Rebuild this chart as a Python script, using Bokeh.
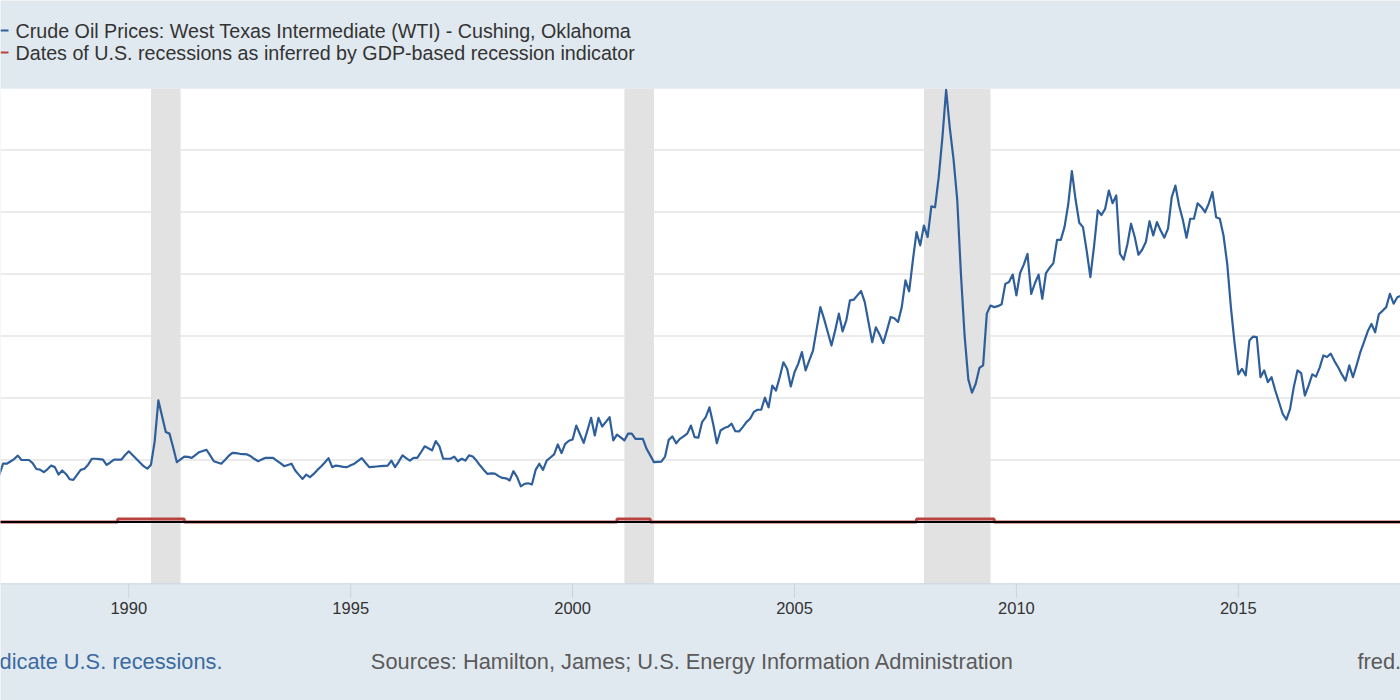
from bokeh.plotting import figure
from bokeh.models import Range1d
from bokeh.core.properties import value
from bokeh.embed import file_html
from bokeh.resources import INLINE

# ---------------- data (monthly WTI, dollars per barrel) ----------------
wti_1987_1990 = [
    17.8, 15.3, 18.8, 18.8, 19.5, 20.3, 21.4, 20.0, 20.0, 20.0, 19.0, 17.1,
    16.9, 16.1, 17.0, 18.2, 17.7, 15.3, 16.6, 15.5, 13.8, 13.6, 15.2, 16.8,
    17.2, 18.5, 20.4, 20.4, 20.3, 20.1, 18.4, 19.2, 20.1, 20.1, 20.1, 21.6,
    22.8, 21.6, 20.4, 19.2, 18.0, 17.2, 18.5, 26.0, 39.2, 34.1, 29.0, 28.5,
]
wti_1991_1994 = [
    24.0, 19.3, 20.2, 21.1, 21.0, 20.7, 21.6, 22.5, 22.9, 23.3, 21.5, 19.6,
    19.2, 18.8, 20.0, 21.3, 22.3, 22.2, 22.0, 21.9, 21.8, 21.2, 20.3, 19.6,
    20.2, 20.7, 20.7, 20.7, 19.8, 19.0, 18.0, 18.4, 18.8, 16.6, 15.2, 13.9,
    15.3, 14.5, 15.5, 16.8, 17.9, 19.2, 20.6, 17.7, 18.2, 18.0, 17.8, 17.7,
]
wti_1995_1998 = [
    18.3, 18.8, 19.7, 20.6, 19.1, 17.7, 17.8, 17.9, 18.0, 18.1, 18.2, 19.8,
    17.7, 19.5, 21.5, 20.6, 19.8, 20.7, 20.7, 22.5, 24.4, 23.8, 23.1, 26.1,
    24.4, 20.4, 20.4, 20.4, 21.1, 19.6, 20.4, 19.8, 21.5, 21.1, 19.8, 18.2,
    16.8, 15.5, 15.7, 15.6, 14.8, 14.2, 14.1, 13.4, 16.4, 14.5, 11.5, 12.3,
]
wti_1999_2002 = [
    12.5, 12.1, 16.8, 18.8, 16.8, 19.8, 20.8, 21.8, 25.0, 22.2, 25.2, 26.2,
    26.6, 31.1, 28.3, 25.5, 29.5, 33.6, 27.9, 33.6, 30.8, 32.3, 33.8, 26.3,
    28.2, 27.3, 26.3, 28.5, 28.5, 26.8, 26.8, 26.8, 23.6, 21.5, 19.3, 19.4,
    19.5, 21.1, 26.5, 27.6, 25.4, 26.8, 27.6, 28.5, 31.1, 27.4, 27.2, 32.2,
]
wti_2003_2006 = [
    33.8, 37.0, 31.7, 25.4, 29.5, 30.3, 30.7, 31.7, 29.3, 29.2, 30.6, 32.2,
    33.3, 35.5, 36.2, 36.2, 40.1, 37.0, 44.0, 42.4, 46.7, 51.5, 49.4, 43.7,
    48.3, 51.0, 54.8, 48.9, 52.1, 55.3, 62.3, 69.3, 65.5, 61.2, 56.9, 61.8,
    67.2, 61.5, 65.0, 71.5, 71.7, 73.1, 74.5, 70.9, 64.5, 58.0, 62.8, 60.5,
]
wti_2007_2010 = [
    57.7, 61.8, 66.1, 65.7, 64.5, 69.3, 77.9, 74.4, 84.4, 93.5, 89.2, 95.6,
    91.9, 101.8, 101.5, 111.2, 124.1, 139.4, 127.0, 117.0, 104.0, 80.0, 60.0, 46.0,
    41.7, 44.6, 49.7, 50.5, 67.2, 69.8, 69.3, 69.6, 70.2, 76.8, 77.4, 79.8,
    73.1, 80.3, 83.0, 86.5, 73.6, 77.0, 79.8, 72.0, 80.3, 82.0, 83.5, 91.0,
]
wti_2011_2014 = [
    91.0, 95.1, 102.3, 113.2, 104.0, 96.5, 95.1, 87.5, 79.0, 89.0, 100.5, 99.0,
    101.0, 106.9, 102.8, 105.3, 86.5, 84.6, 89.5, 96.2, 91.9, 86.2, 87.8, 90.3,
    97.0, 92.4, 96.7, 94.0, 91.7, 94.6, 104.8, 108.5, 102.0, 97.5, 91.7, 97.8,
    97.8, 102.8, 101.6, 99.9, 102.7, 106.4, 98.3, 97.8, 92.4, 83.3, 69.3, 57.6,
]
wti_2015_2018 = [
    47.6, 49.4, 47.3, 58.5, 59.8, 59.6, 46.7, 48.9, 45.1, 46.7, 42.4, 38.7,
    34.9, 33.0, 36.5, 43.5, 48.9, 48.0, 40.8, 44.0, 47.6, 46.9, 49.8, 53.7,
    53.2, 54.3, 51.9, 49.9, 47.6, 45.6, 50.5, 46.7, 50.6, 54.8, 58.1, 61.5,
    63.9, 61.2, 67.0, 68.1, 69.3, 73.6, 70.4, 72.5, 73.0,
]
FIRST_YEAR = 1987

# NBER recession shading (month of start / end)
shade_start = ["1990-07", "2001-03", "2007-12"]
shade_end = ["1991-03", "2001-11", "2009-06"]

# GDP-based recession indicator (quarterly change points, 0/1)
gdp_rec_dates = ["1987-01", "1989-10", "1991-04", "2001-01", "2001-10",
                 "2007-10", "2009-07", "2018-10"]
gdp_rec_vals = [0, 1, 0, 1, 0, 1, 0, 0]

# axis ticks / grid
tick_years = [1990, 1995, 2000, 2005, 2010, 2015]
tick_labels = ["1990", "1995", "2000", "2005", "2010", "2015"]
grid_values = [20, 40, 60, 80, 100, 120]

legend_texts = [
    "Crude Oil Prices: West Texas Intermediate (WTI) - Cushing, Oklahoma",
    "Dates of U.S. recessions as inferred by GDP-based recession indicator",
]
legend_colors = ["#2f5f9b", "#b8433f"]
note_left = "Shaded areas indicate U.S. recessions."
note_mid = "Sources: Hamilton, James; U.S. Energy Information Administration"
note_right = "fred.stlouisfed.org"


def ym(s):
    y, m = s.split("-")
    return int(y) + (int(m) - 1) / 12.0


wti = (wti_1987_1990 + wti_1991_1994 + wti_1995_1998 + wti_1999_2002 +
       wti_2003_2006 + wti_2007_2010 + wti_2011_2014 + wti_2015_2018)
wti_x = [FIRST_YEAR + i / 12.0 for i in range(len(wti))]

# ---------------- layout (the plot frame covers the whole canvas) ----------------
W, H = 1400, 700
PX_PER_YEAR = 44.38
X0_PX_1990 = 128.3
X_START = 1990 - X0_PX_1990 / PX_PER_YEAR
X_END = X_START + W / PX_PER_YEAR
PX_PER_UNIT = 3.1007
ZERO_PX = 521.5


def yv(px):  # canvas pixel row -> data value
    return (ZERO_PX - px) / PX_PER_UNIT


def xv(px):  # canvas pixel column -> year
    return X_START + px / PX_PER_YEAR


Y_TOP, Y_BOT = yv(0), yv(H)
PLOT_TOP, PLOT_BOT = yv(88.3), yv(583.3)
BG = "#e1e9f0"
FONT = value("Liberation Sans")

p = figure(width=W, height=H, output_backend="svg", toolbar_location=None,
           x_range=Range1d(X_START, X_END), y_range=Range1d(Y_BOT, Y_TOP),
           x_axis_location=None, y_axis_location=None,
           min_border=0, min_border_left=0, min_border_right=0,
           min_border_top=0, min_border_bottom=0)
p.border_fill_color = BG
p.background_fill_color = BG
p.outline_line_color = None
p.xgrid.visible = False
p.ygrid.visible = False

# white plotting area
p.quad(left=[X_START], right=[X_END], bottom=[PLOT_BOT], top=[PLOT_TOP],
       fill_color="#ffffff", line_color=None)

# horizontal grid lines
p.segment(x0=[X_START] * len(grid_values), x1=[X_END] * len(grid_values),
          y0=grid_values, y1=grid_values, line_color="#e4e4e4", line_width=1.5)

# recession shading
p.quad(left=[ym(s) for s in shade_start], right=[ym(e) for e in shade_end],
       bottom=PLOT_BOT, top=PLOT_TOP, fill_color="#e2e2e2", line_color=None)

# GDP-based recession indicator (red step line)
p.step([ym(d) for d in gdp_rec_dates], gdp_rec_vals, mode="after",
       line_color="#b8433f", line_width=3)

# zero line
p.segment(x0=[X_START], x1=[X_END], y0=[0], y1=[0], line_color="#000000",
          line_width=2.2)

# oil price line
p.line(wti_x, wti, line_color="#2f5f9b", line_width=2.2, line_join="round")

# x axis line, ticks and labels
p.segment(x0=[X_START], x1=[X_END], y0=[PLOT_BOT], y1=[PLOT_BOT],
          line_color="#c9d3de", line_width=1)
tick_len = 14 / PX_PER_UNIT
p.segment(x0=tick_years, x1=tick_years, y0=[PLOT_BOT] * len(tick_years),
          y1=[PLOT_BOT - tick_len] * len(tick_years), line_color="#c9d3de",
          line_width=1)
p.text(x=tick_years, y=[yv(607)] * len(tick_years), text=tick_labels,
       text_font=FONT, text_font_size=value("16.5px"), text_color="#333333",
       text_align="center", text_baseline="middle")

# legend (top band)
leg_rows = [yv(30), yv(52)]
p.segment(x0=[xv(0)] * 2, x1=[xv(8)] * 2, y0=leg_rows, y1=leg_rows,
          line_color=legend_colors, line_width=2)
p.text(x=[xv(15)] * 2, y=leg_rows, text=legend_texts, text_font=FONT,
       text_font_size=value("19.7px"), text_color="#333333",
       text_align="left", text_baseline="middle")

# footer notes
foot_y = yv(661)
p.text(x=[xv(222)], y=[foot_y], text=[note_left], text_font=FONT,
       text_font_size=value("21.8px"), text_color="#3b6aa0",
       text_align="right", text_baseline="middle")
p.text(x=[xv(692)], y=[foot_y], text=[note_mid], text_font=FONT,
       text_font_size=value("21.8px"), text_color="#5a5a5a",
       text_align="center", text_baseline="middle")
p.text(x=[xv(1357)], y=[foot_y], text=[note_right], text_font=FONT,
       text_font_size=value("21.8px"), text_color="#5a5a5a",
       text_align="left", text_baseline="middle")

html = file_html(p, INLINE, title="WTI crude oil prices")
html = html.replace("<body>", '<body style="background:%s;">' % BG, 1)
open("out.html", "w").write(html)
